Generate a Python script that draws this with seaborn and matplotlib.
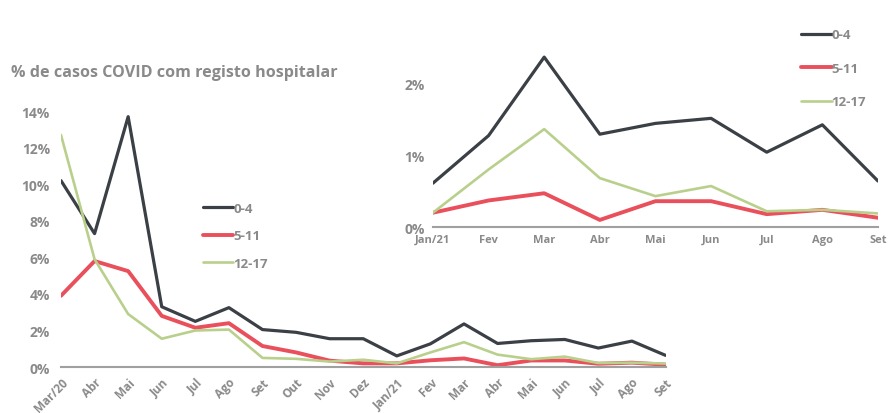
import numpy as np
import pandas as pd
import matplotlib
matplotlib.use("Agg")
import matplotlib.pyplot as plt
import seaborn as sns

months = ["Mar/20", "Abr", "Mai", "Jun", "Jul", "Ago", "Set", "Out", "Nov", "Dez",
          "Jan/21", "Fev", "Mar", "Abr", "Mai", "Jun", "Jul", "Ago", "Set"]
age_0_4 = [10.2, 7.3, 13.7, 3.3, 2.5, 3.25, 2.05, 1.9, 1.55, 1.55,
           0.61, 1.27, 2.36, 1.29, 1.44, 1.51, 1.04, 1.42, 0.64]
age_5_11 = [3.9, 5.8, 5.25, 2.8, 2.15, 2.4, 1.15, 0.8, 0.35, 0.2,
            0.2, 0.37, 0.47, 0.1, 0.36, 0.36, 0.18, 0.24, 0.13]
age_12_17 = [12.7, 5.9, 2.9, 1.55, 2.0, 2.05, 0.5, 0.45, 0.3, 0.4,
             0.2, 0.8, 1.36, 0.68, 0.43, 0.57, 0.22, 0.24, 0.19]
groups = ["0-4", "5-11", "12-17"]
colors = {"0-4": "#3b4046", "5-11": "#e9505c", "12-17": "#b9d08c"}
widths = {"0-4": 2.3, "5-11": 2.8, "12-17": 1.9}
inset_start = months.index("Jan/21")

rows = []
for g, vals in zip(groups, [age_0_4, age_5_11, age_12_17]):
    for i, (m, v) in enumerate(zip(months, vals)):
        rows.append({"idx": i, "month": m, "group": g, "value": v / 100})
df = pd.DataFrame(rows)

sns.set_theme(style="white")
plt.rcParams['font.family'] = ['Open Sans', 'DejaVu Sans']
gray = "#8a8a8a"

fig = plt.figure(figsize=(8.89, 4.14), dpi=100)
ax = fig.add_axes([0.0686, 0.111, 0.680, 0.618])
for g in groups:
    sub = df[df.group == g]
    sns.lineplot(data=sub, x="idx", y="value", ax=ax, color=colors[g],
                 linewidth=widths[g], label=g, legend=False)
ax.set_xlim(0, len(months) - 1)
ax.set_ylim(0, 0.14)
ax.set_yticks(np.arange(0, 0.141, 0.02))
ax.set_yticklabels([f"{int(round(t*100))}%" for t in np.arange(0, 0.141, 0.02)],
                   fontsize=10, fontweight="bold", color=gray)
ax.set_xticks(range(len(months)))
ax.set_xticklabels(months, rotation=45, ha="right", rotation_mode="anchor",
                   fontsize=8.5, fontweight="bold", color=gray)
ax.set_xlabel("")
ax.set_ylabel("")
for s in ["top", "right", "left"]:
    ax.spines[s].set_visible(False)
ax.spines["bottom"].set_color("#a0a0a0")
ax.spines["bottom"].set_linewidth(1.5)
ax.tick_params(axis="x", length=3, color="#a0a0a0", pad=3)
ax.tick_params(axis="y", length=0, pad=8)
ax.patch.set_alpha(0)
leg = ax.legend(loc="upper left", bbox_to_anchor=(0.215, 0.692), frameon=False,
                handlelength=2.3, handletextpad=0.0, labelspacing=1.1,
                prop={"weight": "bold", "size": 9.5})
for t in leg.get_texts():
    t.set_color(gray)

fig.text(0.012, 0.824, "% de casos COVID com registo hospitalar", fontsize=11.6,
         fontweight="bold", color=gray, ha="left", va="center")

# inset
axi = fig.add_axes([0.487, 0.449, 0.5006, 0.435])
sub_df = df[df.idx >= inset_start]
for g in groups:
    sub = sub_df[sub_df.group == g]
    sns.lineplot(data=sub, x="idx", y="value", ax=axi, color=colors[g],
                 linewidth=widths[g], label=g, legend=False)
axi.set_xlim(inset_start, len(months) - 1)
axi.set_ylim(0, 0.025)
axi.set_yticks([0, 0.01, 0.02])
axi.set_yticklabels(["0%", "1%", "2%"], fontsize=10, fontweight="bold", color=gray)
axi.set_xticks(range(inset_start, len(months)))
axi.set_xticklabels(months[inset_start:], fontsize=8, fontweight="bold", color=gray)
axi.set_xlabel("")
axi.set_ylabel("")
for s in ["top", "right", "left"]:
    axi.spines[s].set_visible(False)
axi.spines["bottom"].set_color("#a0a0a0")
axi.spines["bottom"].set_linewidth(1.5)
axi.tick_params(axis="x", length=3, color="#a0a0a0", pad=2)
axi.tick_params(axis="y", length=0, pad=6)
axi.patch.set_alpha(0)
legi = axi.legend(loc="upper right", bbox_to_anchor=(1.0, 1.17), frameon=False,
                  handlelength=2.3, handletextpad=0.0, labelspacing=1.55,
                  prop={"weight": "bold", "size": 9.5})
for t in legi.get_texts():
    t.set_color(gray)

fig.savefig("out.png", dpi=100, facecolor="white")
